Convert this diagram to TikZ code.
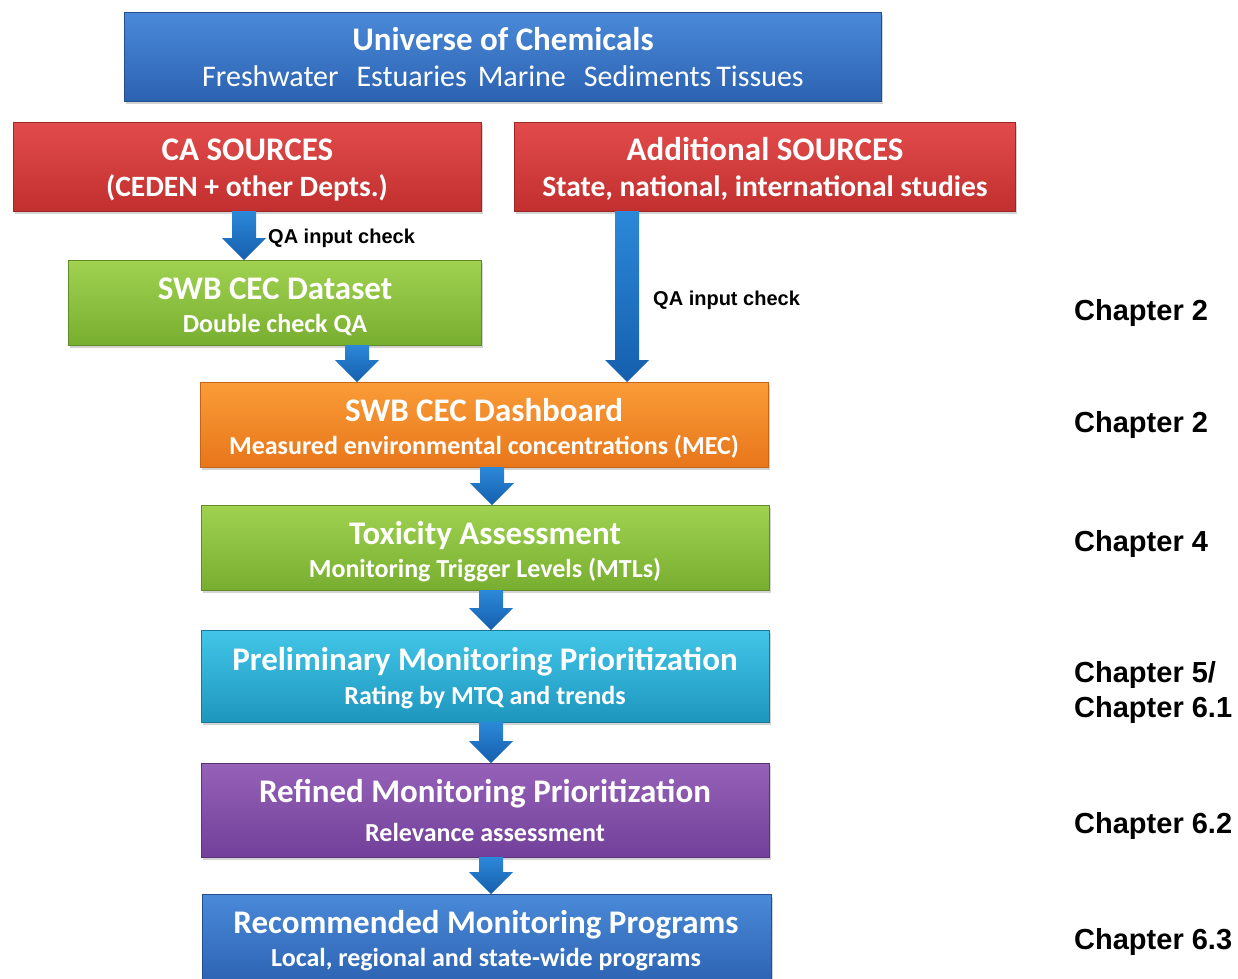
\documentclass[tikz,border=0pt]{standalone}
\usepackage{fontspec}
\setmainfont{Carlito}
\newfontfamily\arialfont{Liberation Sans}
\usetikzlibrary{shadows,calc}
\definecolor{blueT}{HTML}{4A8AD8}\definecolor{blueB}{HTML}{2C62B2}
\definecolor{redT}{HTML}{E24B4B}\definecolor{redB}{HTML}{C22F2F}
\definecolor{greenT}{HTML}{A0D250}\definecolor{greenB}{HTML}{78AE30}
\definecolor{orangeT}{HTML}{FA9C38}\definecolor{orangeB}{HTML}{E8761A}
\definecolor{cyanT}{HTML}{42C6E8}\definecolor{cyanB}{HTML}{1E96BE}
\definecolor{purpleT}{HTML}{9662B8}\definecolor{purpleB}{HTML}{72409A}
\definecolor{arrT}{HTML}{2C88D8}\definecolor{arrB}{HTML}{155FAE}
\tikzset{
  fbox/.style={rectangle, inner sep=0pt, outer sep=0pt, line width=1pt,
    drop shadow={shadow xshift=2pt, shadow yshift=-3pt, opacity=0.35}},
  bluebox/.style={fbox, top color=blueT, bottom color=blueB, draw=blueB!80!black},
  redbox/.style={fbox, top color=redT, bottom color=redB, draw=redB!80!black},
  greenbox/.style={fbox, top color=greenT, bottom color=greenB, draw=greenB!80!black},
  orangebox/.style={fbox, top color=orangeT, bottom color=orangeB, draw=orangeB!85!black},
  cyanbox/.style={fbox, top color=cyanT, bottom color=cyanB, draw=cyanB!80!black},
  purplebox/.style={fbox, top color=purpleT, bottom color=purpleB, draw=purpleB!80!black},
  ttl/.style={anchor=mid, inner sep=0pt, text=white, font=\bfseries\fontsize{33}{36}\selectfont},
  subr/.style={anchor=mid, inner sep=0pt, text=white, font=\fontsize{30}{32}\selectfont},
  subb/.style={anchor=mid, inner sep=0pt, text=white, font=\bfseries\fontsize{29.5}{32}\selectfont},
  subs/.style={anchor=mid, inner sep=0pt, text=white, font=\bfseries\fontsize{26}{30}\selectfont},
  qalabel/.style={anchor=west, inner sep=0pt, font=\arialfont\bfseries\fontsize{20}{24}\selectfont},
  chap/.style={anchor=west, inner sep=0pt, align=left, font=\arialfont\bfseries\fontsize{29}{35}\selectfont},
  arrowfill/.style={top color=arrT, bottom color=arrB}
}
\newcommand{\blockarrow}[3]{%
  \path[arrowfill] let \p1=(#2.south), \p2=(#3.north) in
   ({#1pt-12pt},\y1) -- ({#1pt+12pt},\y1) -- ({#1pt+12pt},{\y2+22pt}) -- ({#1pt+22pt},{\y2+22pt})
   -- ({#1pt},\y2) -- ({#1pt-22pt},{\y2+22pt}) -- ({#1pt-12pt},{\y2+22pt}) -- cycle;}
\begin{document}
\begin{tikzpicture}[x=1pt,y=-1pt]
\useasboundingbox (0,0) rectangle (1238,978);
% boxes
\node[bluebox, minimum width=757pt, minimum height=89pt] (u) at (502.5,56.5) {};
\node[redbox, minimum width=468pt, minimum height=89pt] (ca) at (247,166.5) {};
\node[redbox, minimum width=501pt, minimum height=89pt] (add) at (764.5,166.5) {};
\node[greenbox, minimum width=413pt, minimum height=85pt] (ds) at (274.5,302.5) {};
\node[orangebox, minimum width=568pt, minimum height=85pt] (db) at (484,424.5) {};
\node[greenbox, minimum width=568pt, minimum height=85pt] (tox) at (485,547.5) {};
\node[cyanbox, minimum width=568pt, minimum height=92pt] (pre) at (485,676) {};
\node[purplebox, minimum width=568pt, minimum height=94pt] (ref) at (485,810) {};
\node[bluebox, minimum width=569pt, minimum height=91pt] (rec) at (486.5,939.5) {};
% texts
\node[ttl] (ut) at (503,48) {Universe of Chemicals};
\node[subr] (us) at (503,84) {Freshwater\hspace{18pt}Estuaries\hspace{11pt}Marine\hspace{18pt}Sediments\hspace{5pt}Tissues};
\node[ttl] (cat) at (247.5,158) {CA SOURCES};
\node[subb] (cas) at (247,194) {(CEDEN + other Depts.)};
\node[ttl] (addt) at (765,158) {Additional SOURCES};
\node[subb] (adds) at (765,194) {State, national, international studies};
\node[ttl] (dst) at (275,297) {SWB CEC Dataset};
\node[subs] (dss) at (275,330) {Double check QA};
\node[ttl] (dbt) at (484,419) {SWB CEC Dashboard};
\node[subs] (dbs) at (484,452) {Measured environmental concentrations (MEC)};
\node[ttl] (toxt) at (485,542) {Toxicity Assessment};
\node[subs] (toxs) at (485,575) {Monitoring Trigger Levels (MTLs)};
\node[ttl] (pret) at (485,668) {Preliminary Monitoring Prioritization};
\node[subs] (pres) at (485,702) {Rating by MTQ and trends};
\node[ttl] (reft) at (485,800) {Refined Monitoring Prioritization};
\node[subs] (refs) at (485,839) {Relevance assessment};
\node[ttl] (rect) at (486,931) {Recommended Monitoring Programs};
\node[subs] (recs) at (486,964) {Local, regional and state-wide programs};
% arrows
\blockarrow{244}{ca}{ds}
\blockarrow{357}{ds}{db}
\blockarrow{627}{add}{db}
\blockarrow{492}{db}{tox}
\blockarrow{491}{tox}{pre}
\blockarrow{491}{pre}{ref}
\blockarrow{491}{ref}{rec}
% labels
\node[qalabel] (qa1) at (268,238) {QA input check};
\node[qalabel] (qa2) at (653,300) {QA input check};
\node[chap] (c1) at (1074,313) {Chapter 2};
\node[chap] (c2) at (1074,425) {Chapter 2};
\node[chap] (c3) at (1074,544) {Chapter 4};
\node[chap] (c4) at (1074,692) {Chapter 5/\\Chapter 6.1};
\node[chap] (c5) at (1074,826) {Chapter 6.2};
\node[chap] (c6) at (1074,942) {Chapter 6.3};
\end{tikzpicture}
\end{document}
